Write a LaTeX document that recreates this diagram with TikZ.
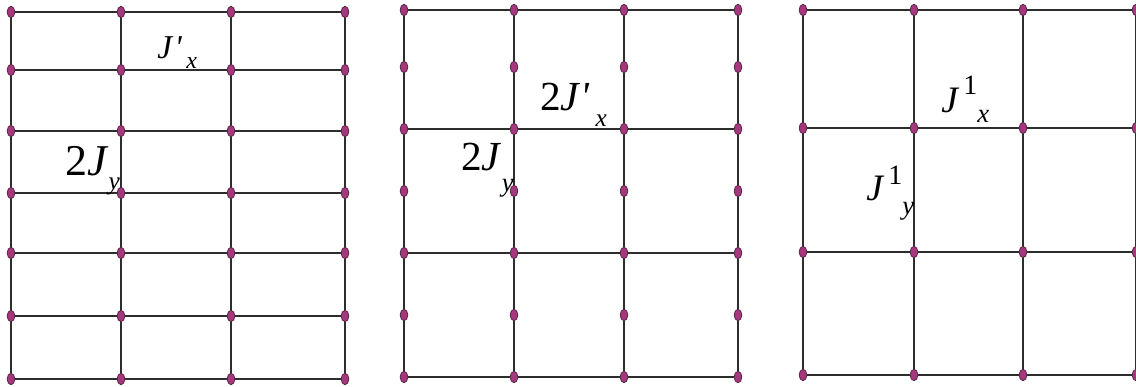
\documentclass[tikz,border=0pt]{standalone}
\usepackage{fontspec}
\setmainfont{Liberation Serif}
\usepackage{tikz}
\usetikzlibrary{shapes.geometric}
\usepackage{xcolor}
\definecolor{sitefill}{RGB}{165,55,125}
\definecolor{siteedge}{RGB}{70,30,55}
\definecolor{bondgray}{RGB}{45,45,45}
% shifted piece of a coupling label: raise, size, text
\newcommand{\offtxt}[3]{\raisebox{#1}{\fontsize{#2}{#2}\selectfont #3}}

\begin{document}
\begin{tikzpicture}[x=0.75pt, y=-0.75pt,
    site/.style={draw=siteedge, line width=0.5pt, fill=sitefill, ellipse, inner sep=0pt, minimum width=5.8pt, minimum height=8.6pt},
    bond/.style={draw=bondgray, line width=0.9pt},
    lbl/.style={anchor=base west, inner sep=0pt}]
  \clip (0,0) rectangle (1136,386);
  \fill[white] (0,0) rectangle (1136,386);
  % left lattice: 4 x 7 sites, all bonds
  \foreach \c/\x in {1/11,2/121,3/231,4/345}
    \foreach \r/\y in {1/12,2/70,3/131,4/193,5/253,6/316,7/379}
      \node[site] (a-\c-\r) at (\x,\y) {};
  \foreach \c in {1,...,4}
    \foreach \r [remember=\r as \p (initially 1)] in {2,...,7}
      \draw[bond] (a-\c-\p) -- (a-\c-\r);
  \foreach \r in {1,...,7}
    \foreach \c [remember=\c as \p (initially 1)] in {2,3,4}
      \draw[bond] (a-\p-\r) -- (a-\c-\r);
  % middle lattice: 4 x 7 sites, rungs on every other row
  \foreach \c/\x in {1/404,2/514,3/624,4/738}
    \foreach \r/\y in {1/10,2/67,3/129,4/191,5/253,6/315,7/377}
      \node[site] (b-\c-\r) at (\x,\y) {};
  \foreach \c in {1,...,4}
    \foreach \r [remember=\r as \p (initially 1)] in {2,...,7}
      \draw[bond] (b-\c-\p) -- (b-\c-\r);
  \foreach \r in {1,3,5,7}
    \foreach \c [remember=\c as \p (initially 1)] in {2,3,4}
      \draw[bond] (b-\p-\r) -- (b-\c-\r);
  % right lattice: 4 x 4 sites
  \foreach \c/\x in {1/803,2/914,3/1023,4/1136}
    \foreach \r/\y in {1/10,2/128,3/252,4/375}
      \node[site] (c-\c-\r) at (\x,\y) {};
  \foreach \c in {1,...,4}
    \foreach \r [remember=\r as \p (initially 1)] in {2,3,4}
      \draw[bond] (c-\c-\p) -- (c-\c-\r);
  \foreach \r in {1,...,4}
    \foreach \c [remember=\c as \p (initially 1)] in {2,3,4}
      \draw[bond] (c-\p-\r) -- (c-\c-\r);
  % couplings
  \node[lbl, font=\fontsize{25}{25}\selectfont] (jx-a) at (157,58)
    {\textit{J}\hspace{1pt}\textit{\textquotesingle}\hspace{3pt}\offtxt{-8pt}{18}{\textit{x}}};
  \node[lbl, font=\fontsize{33}{33}\selectfont] (jy-a) at (65,175)
    {2\textit{J}\offtxt{-11pt}{19}{\textit{y}}};
  \node[lbl, font=\fontsize{31}{31}\selectfont] (jx-b) at (540,110)
    {2\textit{J}\textit{\textquotesingle}\hspace{4pt}\offtxt{-12pt}{19}{\textit{x}}};
  \node[lbl, font=\fontsize{31}{31}\selectfont] (jy-b) at (461,170)
    {2\textit{J}\offtxt{-16pt}{20}{\textit{y}}};
  \node[lbl, font=\fontsize{28}{28}\selectfont] (jx-c) at (941,112)
    {\textit{J}\hspace{3pt}\offtxt{13pt}{21}{1}\offtxt{-8pt}{20}{\textit{x}}};
  \node[lbl, font=\fontsize{28}{28}\selectfont] (jy-c) at (866,200)
    {\textit{J}\hspace{3pt}\offtxt{12pt}{21}{1}\offtxt{-11pt}{20}{\textit{y}}};
\end{tikzpicture}
\end{document}
